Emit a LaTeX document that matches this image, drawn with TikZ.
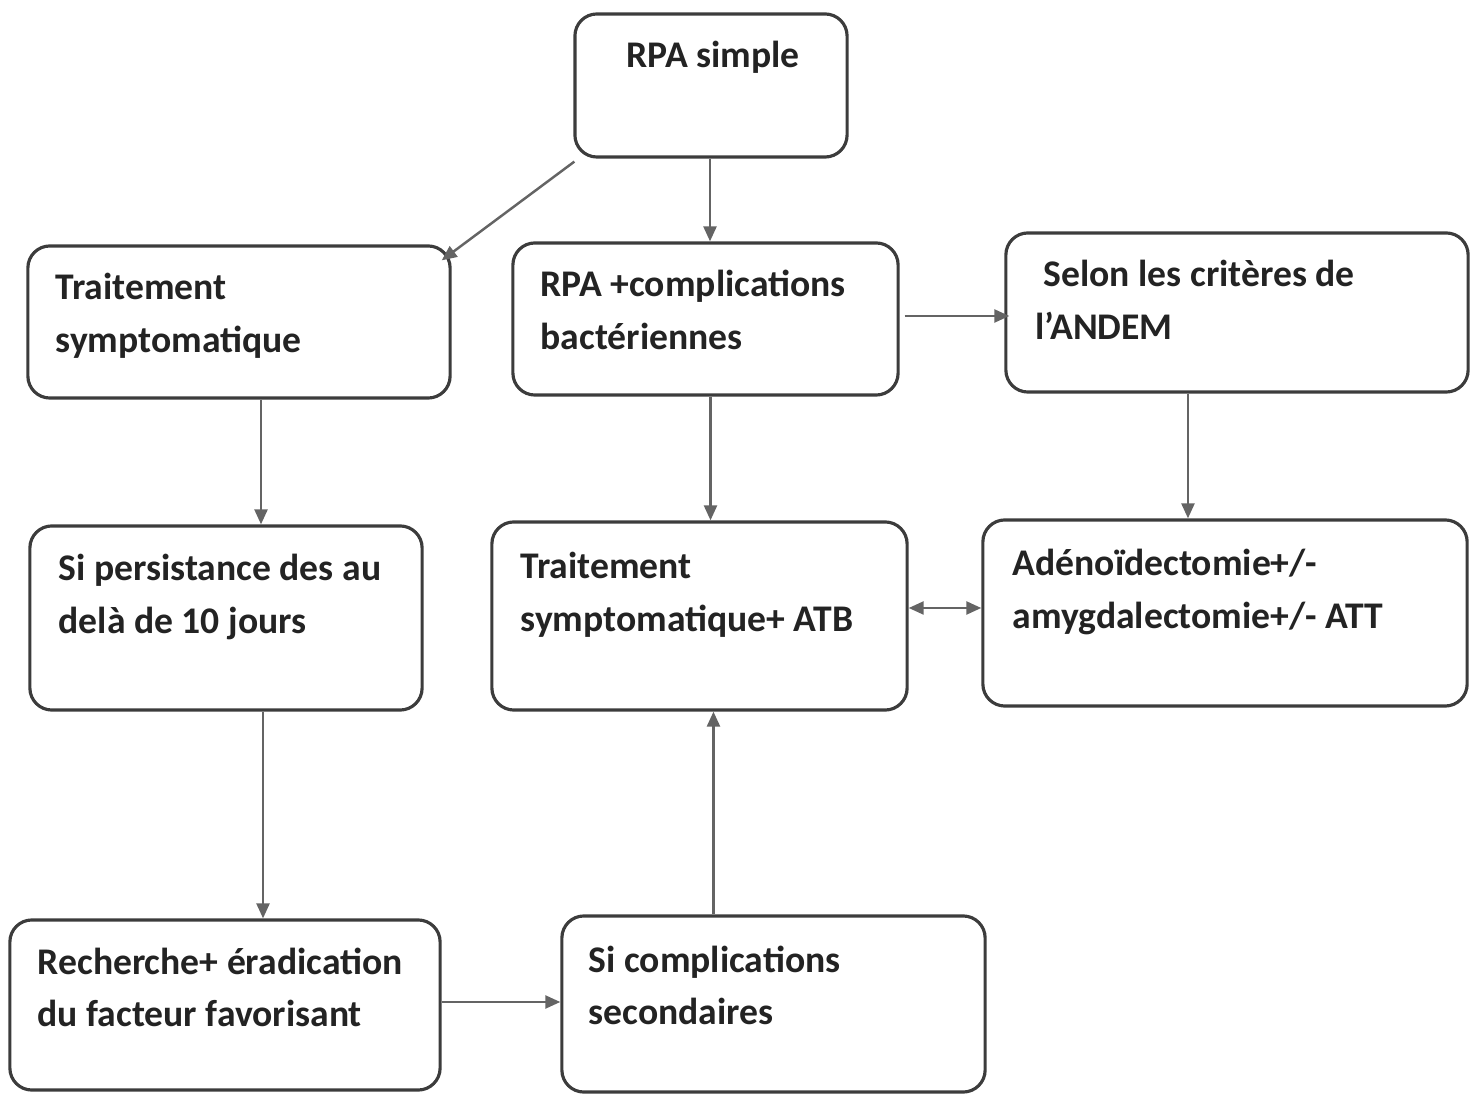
\documentclass[tikz,border=0pt]{standalone}
\usepackage{fontspec}
\setmainfont{Carlito}
\usepackage{tikz}
\usetikzlibrary{calc,arrows.meta,positioning}
\definecolor{edge}{RGB}{60,60,60}
\definecolor{arrowgray}{RGB}{100,100,100}
\definecolor{ink}{RGB}{35,35,35}
\newcommand{\boxlines}[1]{\parbox[t]{6cm}{\raggedright #1}}

\begin{document}
\begin{tikzpicture}[x=0.01cm,y=-0.01cm,
    gtri/.tip={Triangle[length=0.15cm,width=0.13cm]},
    blok/.style={draw=edge,line width=0.9pt,rounded corners=0.22cm,inner sep=0pt},
    lbl/.style={font=\bfseries\fontsize{10.7}{14.8}\selectfont,text=ink,inner sep=0pt,anchor=base west},
    arr/.style={draw=arrowgray,line width=0.7pt,-gtri}]
  \useasboundingbox (0,0) rectangle (1470,1095);
  % boxes (pixel grid, y downwards)
  \node[blok,minimum width=2.72cm,minimum height=1.43cm] (simple)  at (711,85.5) {};
  \node[blok,minimum width=4.22cm,minimum height=1.52cm] (symp)    at (239,322) {};
  \node[blok,minimum width=3.85cm,minimum height=1.52cm] (compl)   at (705.5,319) {};
  \node[blok,minimum width=4.62cm,minimum height=1.59cm] (andem)   at (1237,312.5) {};
  \node[blok,minimum width=3.92cm,minimum height=1.84cm] (persist) at (226,618) {};
  \node[blok,minimum width=4.15cm,minimum height=1.88cm] (atb)     at (699.5,616) {};
  \node[blok,minimum width=4.84cm,minimum height=1.86cm] (adeno)   at (1225,613) {};
  \node[blok,minimum width=4.30cm,minimum height=1.70cm] (rech)    at (225,1005) {};
  \node[blok,minimum width=4.23cm,minimum height=1.76cm] (second)  at (773.5,1004) {};
  % texts
  \node[lbl,anchor=base] (tsimple) at (713,68) {RPA simple};
  \node[lbl] (tsymp)    at (55,300)   {\boxlines{Traitement\\symptomatique}};
  \node[lbl] (tcompl)   at (540,297)  {\boxlines{RPA +complications\\bactériennes}};
  \node[lbl] (tandem)   at (1035,287) {\boxlines{\hspace*{0.08cm}Selon les critères de\\l’ANDEM}};
  \node[lbl] (tpersist) at (58,581)   {\boxlines{Si persistance des au\\delà de 10 jours}};
  \node[lbl] (tatb)     at (520,579)  {\boxlines{Traitement\\symptomatique+ ATB}};
  \node[lbl] (tadeno)   at (1012,576) {\boxlines{Adénoïdectomie+/-\\amygdalectomie+/- ATT}};
  \node[lbl] (trech)    at (37,974)   {\boxlines{Recherche+ éradication\\du facteur favorisant}};
  \node[lbl] (tsecond)  at (588,972)  {\boxlines{Si complications\\secondaires}};
  % connectors
  \draw[arr] ($(simple.south west)+(1,3)$) -- ($(symp.north east)+(-10,16)$);
  \draw[arr] ([xshift=-0.01cm]simple.south) -- ([xshift=-0.01cm]simple.south |- compl.north);
  \draw[arr] ([xshift=0.05cm,yshift=0.03cm]compl.east) -- ([xshift=0.05cm,yshift=0.03cm]compl.east -| andem.west);
  \draw[arr] ([xshift=0.22cm]symp.south) -- ([xshift=0.22cm]symp.south |- persist.north);
  \draw[arr] ([xshift=0.05cm]compl.south) -- ([xshift=0.05cm]compl.south |- atb.north);
  \draw[arr] ([xshift=-0.49cm]andem.south) -- ([xshift=-0.49cm]andem.south |- adeno.north);
  \draw[arr,gtri-gtri] ([yshift=0.08cm]atb.east) -- ([yshift=0.08cm]atb.east -| adeno.west);
  \draw[arr] ([xshift=0.37cm]persist.south) -- ([xshift=0.37cm]persist.south |- rech.north);
  \draw[arr] ([yshift=0.03cm]rech.east) -- ([yshift=0.03cm]rech.east -| second.west);
  \draw[arr] ([xshift=-0.6cm]second.north) -- ([xshift=-0.6cm]second.north |- atb.south);
\end{tikzpicture}
\end{document}
